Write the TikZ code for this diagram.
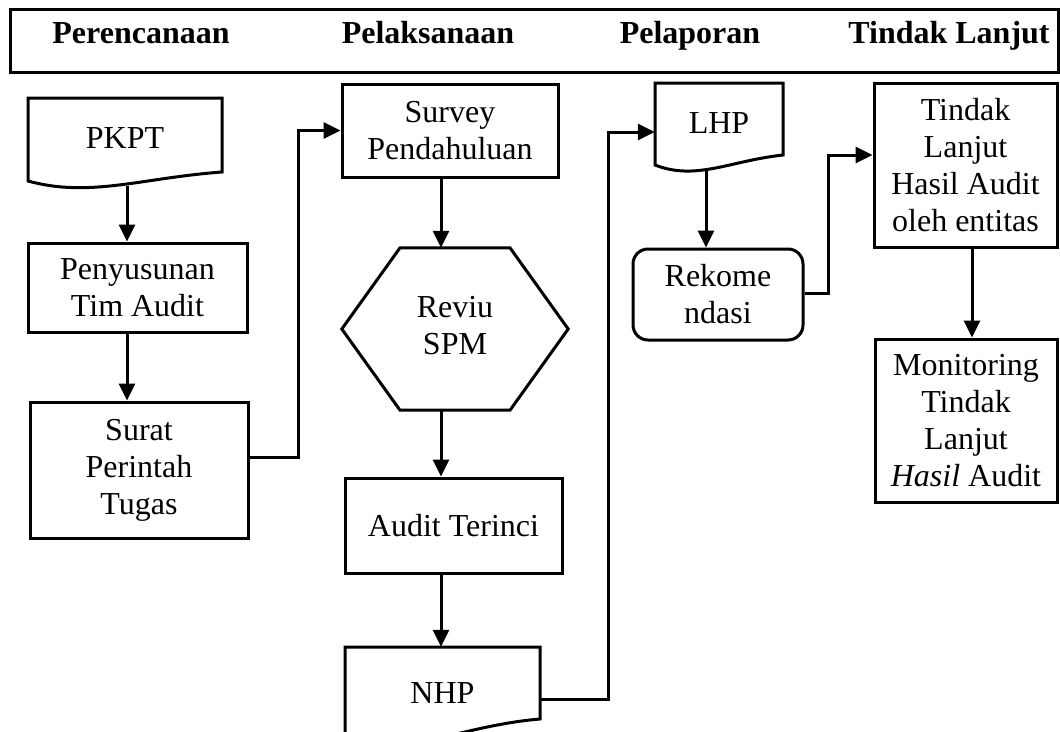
\documentclass[tikz,border=0pt]{standalone}
\usepackage{fontspec}
\setmainfont{Liberation Serif}
\usetikzlibrary{arrows.meta,calc}

\begin{document}
\begin{tikzpicture}[x=1pt,y=-1pt,
  lw/.style={line width=3pt},
  body/.style={font=\fontsize{32}{37}\selectfont},
  box/.style={draw, lw, rectangle, align=center, inner sep=0pt, body},
  txt/.style={align=center, inner sep=0pt, body},
  head/.style={font=\fontsize{32}{37}\selectfont\bfseries, inner sep=0pt, anchor=base},
  arr/.style={lw, -{Triangle[length=17pt,width=16pt]}},
]
% page
\fill[white] (0,0) rectangle (1060,731);
\useasboundingbox (0,0) rectangle (1060,731);

% column headings
\node[draw, lw, minimum width=1048pt, minimum height=63pt, inner sep=0pt] (hdr) at (534,40.5) {};
\node[head] (h1) at (141,43) {Perencanaan};
\node[head] (h2) at (428,43) {Pelaksanaan};
\node[head] (h3) at (690,43) {Pelaporan};
\node[head] (h4) at (949,43) {Tindak Lanjut};

% x positions of the vertical arrows
\coordinate (cA) at (127,0);
\coordinate (cB) at (441,0);
\coordinate (cC) at (706,0);
\coordinate (cD) at (972,0);

% --- Perencanaan ---
\node[txt, minimum width=194pt, minimum height=88pt] (pkpt) at (125,142) {\raisebox{7pt}{PKPT}};
\draw[lw] (222,172) .. controls (141,178) and (90,198) .. (28,181) -- (28,98) -- (222,98) -- cycle;
\node[box, minimum width=219pt, minimum height=89pt] (pen) at (137.5,287.5) {Penyusunan\\Tim Audit};
\node[box, minimum width=218pt, minimum height=136pt] (spt) at (139,470) {Surat\\Perintah\\Tugas};

% --- Pelaksanaan ---
\node[box, minimum width=216pt, minimum height=93pt] (svp) at (450,130.5) {Survey\\Pendahuluan};
\node[txt, minimum width=226pt, minimum height=162pt] (rev) at (455,329)
  {\raisebox{6pt}{\begin{tabular}{@{}c@{}}Reviu\\SPM\end{tabular}}};
\draw[lw] (rev.west) -- ([xshift=-55pt]rev.north) -- ([xshift=55pt]rev.north)
  -- (rev.east) -- ([xshift=55pt]rev.south) -- ([xshift=-55pt]rev.south) -- cycle;
\node[box, minimum width=217pt, minimum height=95pt] (aud) at (453.5,525.5) {Audit Terinci};
\node[txt, minimum width=195pt, minimum height=92pt] (nhp) at (442.5,693) {NHP};
\draw[lw] (540,719) .. controls (458,726) and (407,758) .. (345,740) -- (345,647) -- (540,647) -- cycle;

% --- Pelaporan ---
\node[txt, minimum width=128pt, minimum height=88pt] (lhp) at (719,126) {\raisebox{6pt}{LHP}};
\draw[lw] (783,155) .. controls (729,161) and (696,181) .. (655,165) -- (655,83) -- (783,83) -- cycle;
\node[box, rounded corners=15pt, minimum width=170pt, minimum height=91pt] (rek) at (718,294.5) {Rekome\\ndasi};

% --- Tindak Lanjut ---
\node[box, minimum width=183pt, minimum height=164pt] (tin) at (965.5,165) {Tindak\\Lanjut\\Hasil Audit\\oleh entitas};
\node[box, minimum width=182pt, minimum height=163pt] (mon) at (966,420.5) {Monitoring\\Tindak\\Lanjut\\\textit{Hasil} Audit};

% connectors
\draw[arr] (pkpt.south -| cA) -- (pen.north -| cA);
\draw[arr] (pen.south -| cA) -- (spt.north -| cA);
\draw[arr] ([yshift=13pt]spt.east) -- ++(49,0) |- (svp.west);
\draw[arr] (svp.south -| cB) -- (rev.north -| cB);
\draw[arr] (rev.south -| cB) -- (aud.north -| cB);
\draw[arr] (aud.south -| cB) -- (nhp.north -| cB);
\draw[arr] ([yshift=-6pt]nhp.east) -- ++(68,0) |- ([yshift=-6pt]lhp.west);
\draw[arr] (lhp.south -| cC) -- (rek.north -| cC);
\draw[arr] ([yshift=1.5pt]rek.east) -- ++(24,0) |- ([yshift=10pt]tin.west);
\draw[arr] (tin.south -| cD) -- (mon.north -| cD);
\end{tikzpicture}
\end{document}
